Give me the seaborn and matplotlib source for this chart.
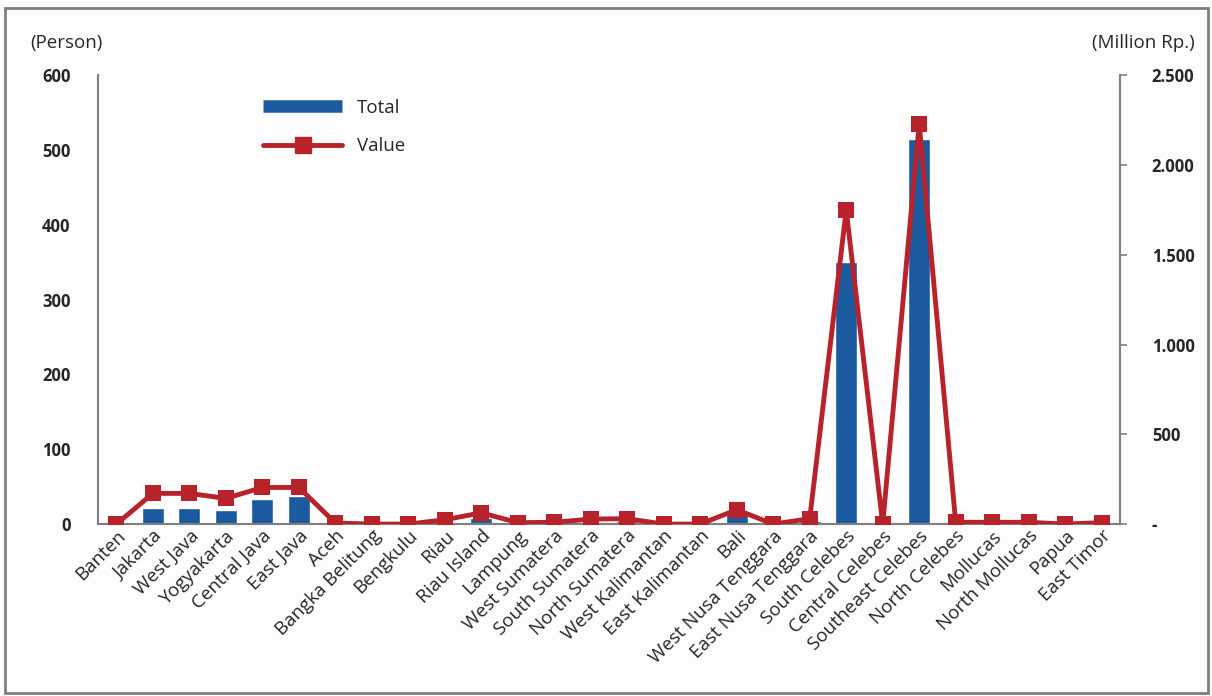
import seaborn as sns
import numpy as np
import matplotlib.pyplot as plt
import pandas as pd
from matplotlib.lines import Line2D
from matplotlib.patches import Rectangle
from matplotlib.ticker import FuncFormatter

provinces = ["Banten", "Jakarta", "West Java", "Yogyakarta", "Central Java", "East Java",
             "Aceh", "Bangka Belitung", "Bengkulu", "Riau", "Riau Island", "Lampung",
             "West Sumatera", "South Sumatera", "North Sumatera", "West Kalimantan",
             "East Kalimantan", "Bali", "West Nusa Tenggara", "East Nusa Tenggara",
             "South Celebes", "Central Celebes", "Southeast Celebes", "North Celebes",
             "Mollucas", "North Mollucas", "Papua", "East Timor"]
total = [0, 22, 22, 19, 34, 38, 1, 0, 1, 3, 8, 2, 2, 2, 4, 1, 1, 13, 1, 4,
         350, 0, 515, 2, 3, 2, 1, 2]
value = [0, 171, 171, 143, 204, 204, 6, 0, 0, 24, 63, 8, 10, 28, 30, 0, 0, 80, 0, 30,
         1750, 0, 2230, 10, 10, 10, 0, 8]

bar_color = "#1c5aa0"
line_color = "#b8222a"

sns.set_style("white")
plt.rcParams['font.family'] = ['Open Sans', 'DejaVu Sans']

df = pd.DataFrame({"province": provinces, "total": total, "value": value})
df["pos"] = np.arange(len(df))

fig = plt.figure(figsize=(12.12, 6.96), dpi=100)
fig.patch.set_facecolor("#fdfdfd")
ax = fig.add_axes([0.081, 0.247, 0.843, 0.645])
ax.set_facecolor("#fdfdfd")

sns.barplot(data=df, x="province", y="total", color=bar_color, width=0.6,
            saturation=1, ax=ax)
ax.set_xlim(-0.5, len(df) - 0.5)
ax.set_ylim(0, 600)
ax.set_yticks(range(0, 601, 100))
ax.set_xlabel("")
ax.set_ylabel("")

ax2 = ax.twinx()
sns.lineplot(data=df, x="pos", y="value", color=line_color, linewidth=3.5,
             marker="s", markersize=11, markeredgewidth=0, ax=ax2)
ax2.set_ylim(0, 2500)
ax2.set_yticks(range(0, 2501, 500))
ax2.yaxis.set_major_formatter(FuncFormatter(
    lambda v, p: "-" if v == 0 else f"{int(v):,}".replace(",", ".")))
ax2.set_xlabel("")
ax2.set_ylabel("")

for a in (ax, ax2):
    for s in a.spines.values():
        s.set_visible(False)
ax.spines["left"].set_visible(True)
ax.spines["bottom"].set_visible(True)
ax2.spines["right"].set_visible(True)
for s in (ax.spines["left"], ax.spines["bottom"], ax2.spines["right"]):
    s.set_color("#7f7f7f")
    s.set_linewidth(1.5)

ax.tick_params(axis="y", length=0, pad=20, labelsize=12)
ax.tick_params(axis="x", length=0, pad=2, labelsize=13.5)
ax2.tick_params(axis="y", length=5, width=1.2, color="#7f7f7f", direction="out",
                pad=18, labelsize=12)
for lab in ax.get_yticklabels() + ax2.get_yticklabels():
    lab.set_fontweight("bold")
plt.setp(ax.get_xticklabels(), rotation=45, ha="right", rotation_mode="anchor")

handles = [Line2D([0], [0], color=bar_color, linewidth=9, solid_capstyle="butt"),
           Line2D([0], [0], color=line_color, linewidth=3.5, marker="s", markersize=11)]
ax2.legend(handles, ["Total", "Value"], loc="upper left",
           bbox_to_anchor=(0.145, 0.985), frameon=False, fontsize=13.5,
           handlelength=4.2, labelspacing=1.1)

fig.text(0.025, 0.938, "(Person)", fontsize=13.5, ha="left", va="center")
fig.text(0.986, 0.938, "(Million Rp.)", fontsize=13.5, ha="right", va="center")
fig.patches.append(Rectangle((0.004, 0.004), 0.993, 0.984, transform=fig.transFigure,
                             fill=False, edgecolor="#7f7f7f", linewidth=2))

fig.savefig("out.png", dpi=100)
